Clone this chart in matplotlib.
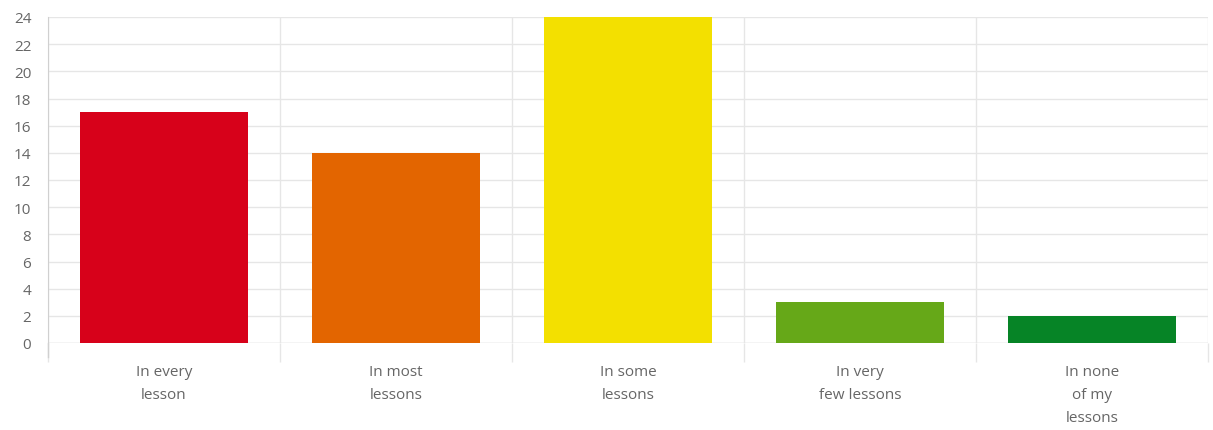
import numpy as np
import matplotlib
matplotlib.use('Agg')
import matplotlib.pyplot as plt

categories = ['In every\nlesson', 'In most\nlessons', 'In some\nlessons',
              'In very\nfew lessons', 'In none\nof my\nlessons']
values = [17, 14, 24, 3, 2]
colors = ['#d7011a', '#e36500', '#f3e000', '#66a818', '#068426']
y_ticks = list(range(0, 25, 2))

plt.rcParams['font.family'] = ['Open Sans', 'DejaVu Sans']

fig = plt.figure(figsize=(12.13, 4.31), dpi=100)
ax = fig.add_axes([48/1213, 1-344/431, 1160/1213, 326/431])

x = np.arange(len(categories))
ax.bar(x, values, width=0.72, color=colors, zorder=3)

ax.set_xlim(-0.5, len(categories)-0.5)
ax.set_ylim(0, 24)
ax.set_yticks(y_ticks)
ax.set_yticklabels([str(v) for v in y_ticks], fontsize=11, color='#666666')
ax.set_xticks(x)
ax.set_xticklabels(categories, fontsize=11, color='#666666', linespacing=1.75)
ax.tick_params(axis='x', length=0, pad=15)
ax.tick_params(axis='y', length=0, pad=12)

# category boundaries, drawn as minor ticks reaching below the axis
ax.set_xticks(np.arange(-0.5, len(categories)), minor=True)
ax.tick_params(axis='x', which='minor', length=14, width=1, color='#e6e6e6')

ax.grid(True, axis='y', color='#e6e6e6', linewidth=1, zorder=0)
ax.grid(True, axis='x', which='minor', color='#e6e6e6', linewidth=1, zorder=0)

for s in ['top', 'right', 'bottom']:
    ax.spines[s].set_visible(False)
ax.spines['left'].set_color('#d0d0d0')
ax.spines['left'].set_bounds(0, 24)
ax.axhline(0, color='#e0e0e0', linewidth=1, zorder=1)
# left axis continues down like the boundary ticks
ax.plot([-0.5, -0.5], [0, -14/326*24], color='#d0d0d0', linewidth=1, clip_on=False)

plt.savefig('out.png', dpi=100)
